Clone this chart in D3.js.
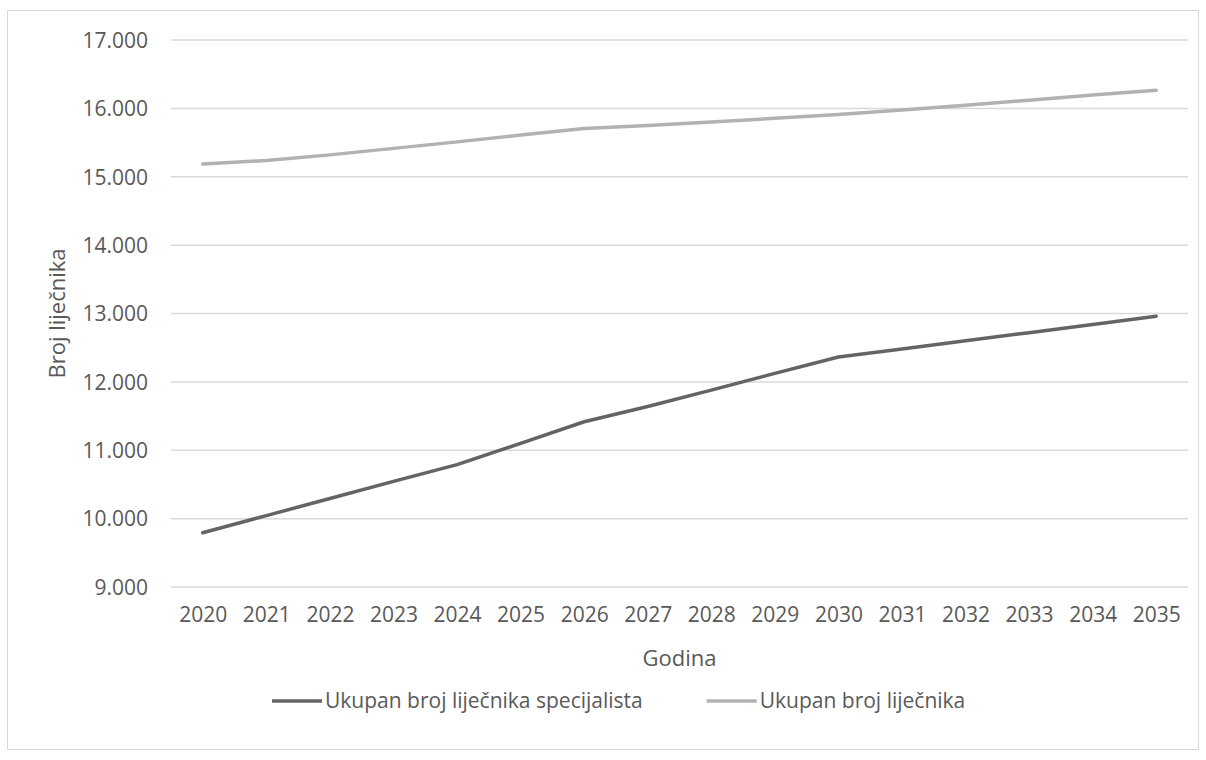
<!DOCTYPE html>
<html>
<head>
<meta charset="utf-8">
<script src="https://cdn.jsdelivr.net/npm/d3@7"></script>
<style>
  body { margin: 0; background: #fff; }
  svg, svg text { font-family: "Open Sans", "Noto Sans", sans-serif; }
  .tick text { fill: #595959; }
</style>
</head>
<body>
<svg id="chart" width="1206" height="760"></svg>
<script>
// Data
var years = ["2020", "2021", "2022", "2023", "2024", "2025", "2026", "2027",
             "2028", "2029", "2030", "2031", "2032", "2033", "2034", "2035"];
var specijalisti = [9794, 10044, 10294, 10544, 10790, 11100, 11417, 11640,
                    11880, 12125, 12363, 12480, 12600, 12720, 12840, 12961];
var ukupno = [15185, 15238, 15320, 15415, 15510, 15610, 15707, 15749,
              15800, 15855, 15910, 15975, 16045, 16120, 16195, 16266];
var yTicks = [9000, 10000, 11000, 12000, 13000, 14000, 15000, 16000, 17000];
var seriesNames = ["Ukupan broj liječnika specijalista", "Ukupan broj liječnika"];
var seriesColors = ["#646464", "#b2b2b2"];

var svg = d3.select("#chart");

// chart frame
svg.append("rect")
    .attr("x", 7.5).attr("y", 10.5)
    .attr("width", 1191).attr("height", 739)
    .attr("fill", "#fff")
    .attr("stroke", "#d9d9d9");

// Dimensions of plot area
var plotLeft = 171, plotRight = 1188, plotTop = 40, plotBottom = 587;

var x = d3.scalePoint().domain(years).range([plotLeft, plotRight]).padding(0.5);
var y = d3.scaleLinear().domain([9000, 17000]).range([plotBottom, plotTop]);

var fmt = function(d) { return d3.format(",")(d).replace(/,/g, "."); };

// Gridlines
svg.append("g")
    .selectAll("line")
    .data(yTicks)
    .enter()
    .append("line")
    .attr("x1", plotLeft).attr("x2", plotRight)
    .attr("y1", function(d) { return y(d); })
    .attr("y2", function(d) { return y(d); })
    .attr("stroke", "#d9d9d9")
    .attr("stroke-width", 1.5);

// Y axis
var yAxis = svg.append("g")
    .attr("transform", "translate(" + (plotLeft - 23) + ",0)")
    .call(d3.axisLeft(y).tickValues(yTicks).tickFormat(fmt).tickSize(0).tickPadding(0));
yAxis.attr("font-family", null).attr("font-size", null);
yAxis.select(".domain").remove();
yAxis.selectAll("text").style("font-size", "21px").attr("dy", "0.35em");

// X axis
var xAxis = svg.append("g")
    .attr("transform", "translate(0," + (plotBottom + 19) + ")")
    .call(d3.axisBottom(x).tickSize(0).tickPadding(0));
xAxis.attr("font-family", null).attr("font-size", null);
xAxis.select(".domain").remove();
xAxis.selectAll("text").style("font-size", "21px").attr("dy", "0.75em");

// Axis titles
svg.append("text")
    .attr("x", (plotLeft + plotRight) / 2)
    .attr("y", 666)
    .attr("text-anchor", "middle")
    .attr("fill", "#595959")
    .style("font-size", "22px")
    .text("Godina");

svg.append("text")
    .attr("transform", "translate(65," + ((plotTop + plotBottom) / 2) + ") rotate(-90)")
    .attr("text-anchor", "middle")
    .attr("fill", "#595959")
    .style("font-size", "22px")
    .text("Broj liječnika");

// Lines
var line = d3.line()
    .x(function(d, i) { return x(years[i]); })
    .y(function(d) { return y(d); });

[specijalisti, ukupno].forEach(function(s, i) {
    svg.append("path")
        .datum(s)
        .attr("fill", "none")
        .attr("stroke", seriesColors[i])
        .attr("stroke-width", 3.5)
        .attr("stroke-linecap", "round")
        .attr("stroke-linejoin", "round")
        .attr("d", line);
});

// Legend
var legend = svg.append("g").attr("class", "legend");
var lx = 272, ly = 701;
seriesNames.forEach(function(name, i) {
    var g = legend.append("g").attr("transform", "translate(" + lx + "," + ly + ")");
    g.append("line")
        .attr("x1", 0).attr("x2", 50)
        .attr("y1", 0).attr("y2", 0)
        .attr("stroke", seriesColors[i])
        .attr("stroke-width", 3.5);
    var t = g.append("text")
        .attr("x", 53)
        .attr("dy", "0.35em")
        .attr("fill", "#595959")
        .style("font-size", "21px")
        .text(name);
    lx += 53 + t.node().getComputedTextLength() + 64;
});
</script>
</body>
</html>
